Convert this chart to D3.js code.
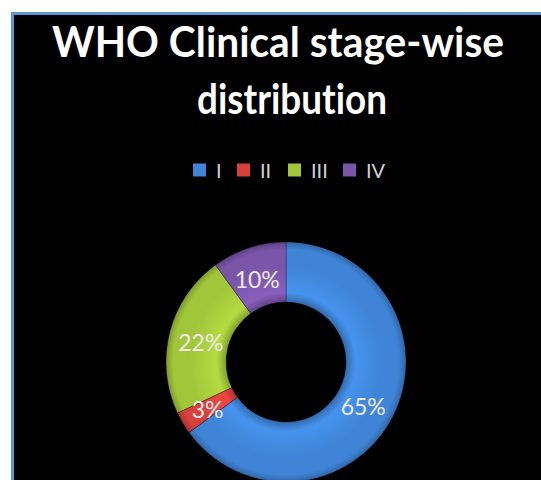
<!DOCTYPE html>
<html>
<head>
<meta charset="utf-8">
<script src="https://cdn.jsdelivr.net/npm/d3@7"></script>
<style>
  body { margin: 0; background: #ffffff; }
  text { font-variant-ligatures: none; }
</style>
</head>
<body>
<div id="chart"></div>
<script>
// data
var stages = ["I", "II", "III", "IV"];
var percents = [65, 3, 22, 10];
var colors = ["#3f84d6", "#d8403c", "#a2c63a", "#7a55aa"];

var svgWidth = 541;
var svgHeight = 480;

var svg = d3.select("#chart")
  .append("svg")
  .attr("width", svgWidth)
  .attr("height", svgHeight);

// black panel with blue frame
svg.append("rect")
  .attr("x", 12.5)
  .attr("y", 13.5)
  .attr("width", svgWidth)
  .attr("height", svgHeight)
  .attr("fill", "#000000")
  .attr("stroke", "#5b95d6")
  .attr("stroke-width", 3);

// title
svg.append("text")
  .attr("x", 278)
  .attr("y", 57)
  .attr("text-anchor", "middle")
  .attr("fill", "#ffffff")
  .attr("font-family", "Lato, 'Open Sans', sans-serif")
  .attr("font-weight", "bold")
  .attr("font-size", "42px")
  .attr("textLength", 452)
  .attr("lengthAdjust", "spacingAndGlyphs")
  .text("WHO Clinical stage-wise");

svg.append("text")
  .attr("x", 292)
  .attr("y", 114)
  .attr("text-anchor", "middle")
  .attr("fill", "#ffffff")
  .attr("font-family", "Lato, 'Open Sans', sans-serif")
  .attr("font-weight", "bold")
  .attr("font-size", "42px")
  .attr("textLength", 190)
  .attr("lengthAdjust", "spacingAndGlyphs")
  .text("distribution");

// legend
var legendX = [193, 237, 288, 343];
var legend = svg.append("g").attr("class", "legend");
var items = legend.selectAll("g").data(stages).enter().append("g")
  .attr("transform", (d, i) => `translate(${legendX[i]}, 170)`);

items.append("rect")
  .attr("x", 0)
  .attr("y", -6.5)
  .attr("width", 13)
  .attr("height", 13)
  .attr("fill", (d, i) => colors[i]);

items.append("text")
  .attr("x", 23)
  .attr("y", 7.5)
  .attr("fill", "#d2d2d2")
  .attr("font-family", "Lato, 'Open Sans', sans-serif")
  .attr("font-size", "20px")
  .text(d => d);

// donut
var cx = 286, cy = 362;
var outerR = 120, innerR = 60;

var defs = svg.append("defs");
colors.forEach(function(c, i) {
  var g = defs.append("radialGradient")
    .attr("id", "grad" + i)
    .attr("gradientUnits", "userSpaceOnUse")
    .attr("cx", 0).attr("cy", 0).attr("r", outerR);
  var base = d3.color(c);
  g.append("stop").attr("offset", innerR / outerR).attr("stop-color", base.darker(0.6));
  g.append("stop").attr("offset", 0.58).attr("stop-color", base.brighter(0.3));
  g.append("stop").attr("offset", 0.8).attr("stop-color", base);
  g.append("stop").attr("offset", 0.94).attr("stop-color", base);
  g.append("stop").attr("offset", 1).attr("stop-color", base.darker(0.7));
});

var pie = d3.pie().sort(null).value(d => d);
var arc = d3.arc().innerRadius(innerR).outerRadius(outerR);
var labelArc = d3.arc().innerRadius(90).outerRadius(90);

var chartGroup = svg.append("g")
  .attr("transform", `translate(${cx}, ${cy})`);

chartGroup.selectAll("path")
  .data(pie(percents))
  .enter()
  .append("path")
  .attr("d", arc)
  .attr("fill", (d, i) => `url(#grad${i})`)
  .attr("stroke", "#000000")
  .attr("stroke-opacity", 0.3)
  .attr("stroke-width", 1);

// nudge labels to where they sit in the original
var labelOffset = [[-3, 6], [-1, 4], [2, 6], [-1, 6]];
chartGroup.selectAll("text.pct")
  .data(pie(percents))
  .enter()
  .append("text")
  .attr("class", "pct")
  .attr("x", (d, i) => labelArc.centroid(d)[0] + labelOffset[i][0])
  .attr("y", (d, i) => labelArc.centroid(d)[1] + labelOffset[i][1])
  .attr("text-anchor", "middle")
  .attr("dominant-baseline", "middle")
  .attr("fill", "#ececec")
  .attr("font-family", "Lato, 'Open Sans', sans-serif")
  .attr("font-size", "23px")
  .text(d => d.data + "%");
</script>
</body>
</html>
